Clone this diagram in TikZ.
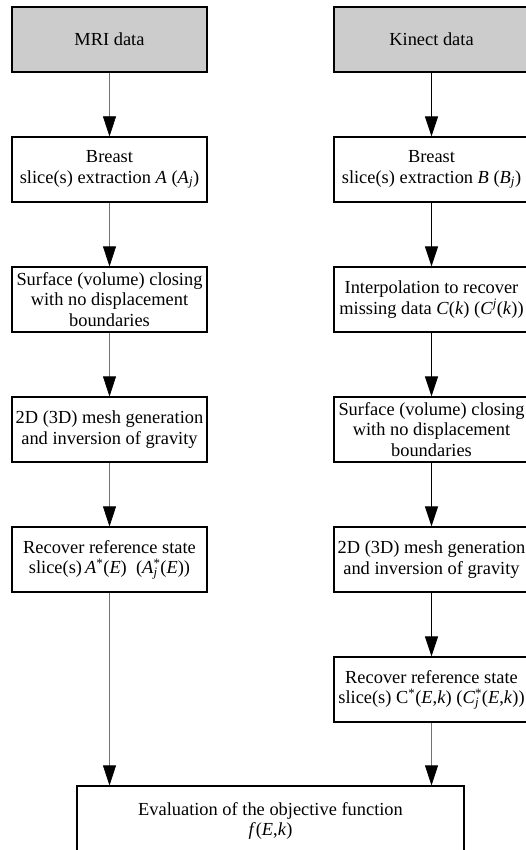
\documentclass[tikz,border=0pt]{standalone}
\usepackage{fontspec}
\setmainfont{Liberation Serif}
\usetikzlibrary{arrows.meta}
\definecolor{boxgray}{RGB}{204,204,204}
\newcommand{\ii}[1]{\textit{#1}}
\begin{document}
\begin{tikzpicture}[x=1pt,y=-1pt,
  every node/.style={font=\fontsize{18.4}{20.5}\selectfont},
  stepbox/.style={draw=black,line width=1.2pt,minimum width=195pt,minimum height=65pt,align=center,inner sep=1pt},
  databox/.style={stepbox,fill=boxgray,line width=2pt},
  evalbox/.style={draw=black,line width=1.2pt,minimum width=387pt,minimum height=70pt,align=center},
  leftarr/.style={draw=black!55,line width=0.7pt,-{Triangle[width=13pt,length=20pt,color=black]}},
  rightarr/.style={draw=black,line width=1pt,-{Triangle[width=13pt,length=20pt]}}]
\useasboundingbox (0,0) rectangle (526,850);
\clip (0,0) rectangle (526,850);
\fill[white] (0,0) rectangle (526,850);
% left column
\node[databox] (L1) at (109.5,39.5) {MRI data};
\node[stepbox] (L2) at (109.5,169.5) {Breast\\slice(s) extraction \ii{A} (\ii{A}\textsubscript{\ii{j}})};
\node[stepbox] (L3) at (109.5,299.5) {Surface (volume) closing\\with no displacement\\boundaries};
\node[stepbox] (L4) at (109.5,429.5) {2D (3D) mesh generation\\and inversion of gravity};
\node[stepbox] (L5) at (109.5,559.5) {Recover reference state\\slice(s)\,\ii{A}\textsuperscript{*}(\ii{E})\ \ (\ii{A}\rlap{\textsubscript{\ii{j}}}\textsuperscript{*}(\ii{E}))};
% right column
\node[databox] (R1) at (431.5,39.5) {Kinect data};
\node[stepbox] (R2) at (431.5,169.5) {Breast\\slice(s) extraction \ii{B} (\ii{B}\textsubscript{\ii{j}})};
\node[stepbox] (R3) at (431.5,299.5) {Interpolation to recover\\missing data \ii{C}(\ii{k}) (\ii{C}\textsuperscript{\ii{j}}(\ii{k}))};
\node[stepbox] (R4) at (431.5,429.5) {Surface (volume) closing\\with no displacement\\boundaries};
\node[stepbox] (R5) at (431.5,559.5) {2D (3D) mesh generation\\and inversion of gravity};
\node[stepbox] (R6) at (431.5,689.5) {Recover reference state\\slice(s) C\textsuperscript{*}(\ii{E},\ii{k}) (\ii{C}\rlap{\textsubscript{\ii{j}}}\textsuperscript{*}(\ii{E},\ii{k}))};
% evaluation
\node[evalbox] (E) at (270.5,821) {Evaluation of the objective function\\\ii{f}(\ii{E},\ii{k})};
% connectors
\draw[leftarr] (L1) -- (L2);
\draw[leftarr] (L2) -- (L3);
\draw[leftarr] (L3) -- (L4);
\draw[leftarr] (L4) -- (L5);
\draw[leftarr] (L5.south) -- (L5.south |- E.north);
\draw[rightarr] (R1) -- (R2);
\draw[rightarr] (R2) -- (R3);
\draw[rightarr] (R3) -- (R4);
\draw[rightarr] (R4) -- (R5);
\draw[rightarr] (R5) -- (R6);
\draw[leftarr] (R6.south) -- (R6.south |- E.north);
\end{tikzpicture}
\end{document}
